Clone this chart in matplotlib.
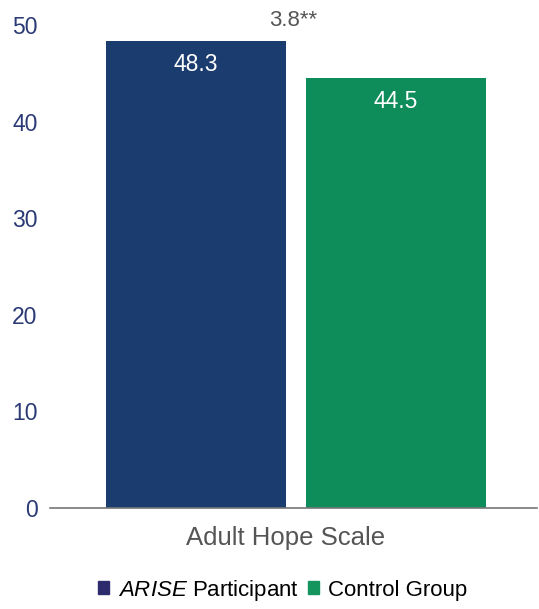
import matplotlib.pyplot as plt
from matplotlib.patches import Patch

plt.rcParams['font.family'] = ['Liberation Sans', 'DejaVu Sans']
plt.rcParams['mathtext.fontset'] = 'custom'
plt.rcParams['mathtext.it'] = 'Liberation Sans:italic'
plt.rcParams['mathtext.rm'] = 'Liberation Sans'

# data
category = "Adult Hope Scale"
groups = ["ARISE Participant", "Control Group"]
values = [48.3, 44.5]
difference = "3.8**"
yticks = [0, 10, 20, 30, 40, 50]

bar_colors = ["#1b3c6e", "#0e8c5a"]
legend_colors = ["#2e2a6e", "#14955e"]
offsets = [-0.2, 0.21]

fig = plt.figure(figsize=(5.39, 6.09), dpi=100)
ax = fig.add_axes([0.093, 0.166, 0.903, 0.793])

for val, off, col in zip(values, offsets, bar_colors):
    ax.bar(off, val, width=0.37, color=col)
    ax.text(off, val - 2.4, f"{val:.1f}", ha='center', va='center',
            color='white', fontsize=16.5)

ax.text(0.0, 50.5, difference, ha='center', va='center', color='#555555',
        fontsize=16, clip_on=False)

ax.set_xlim(-0.5, 0.5)
ax.set_ylim(0, 50)
ax.set_yticks(yticks)
ax.set_yticklabels([str(t) for t in yticks], color='#2b3a75', fontsize=16.5)
ax.tick_params(axis='y', length=0, pad=9)
ax.set_xticks([])
for s in ['top', 'right', 'left']:
    ax.spines[s].set_visible(False)
ax.spines['bottom'].set_color('#777777')
ax.spines['bottom'].set_linewidth(1.2)

fig.text(0.53, 0.116, category, ha='center', va='center', color='#555555',
         fontsize=18.5)

handles = [Patch(color=c) for c in legend_colors]
labels = [r"$\it{ARISE}$ Participant", groups[1]]
fig.legend(handles, labels, loc='center', bbox_to_anchor=(0.525, 0.031), ncol=2,
           frameon=False, fontsize=16, handlelength=0.5, handleheight=0.5,
           handletextpad=0.4, columnspacing=0.4)

fig.savefig("out.png", dpi=100)
